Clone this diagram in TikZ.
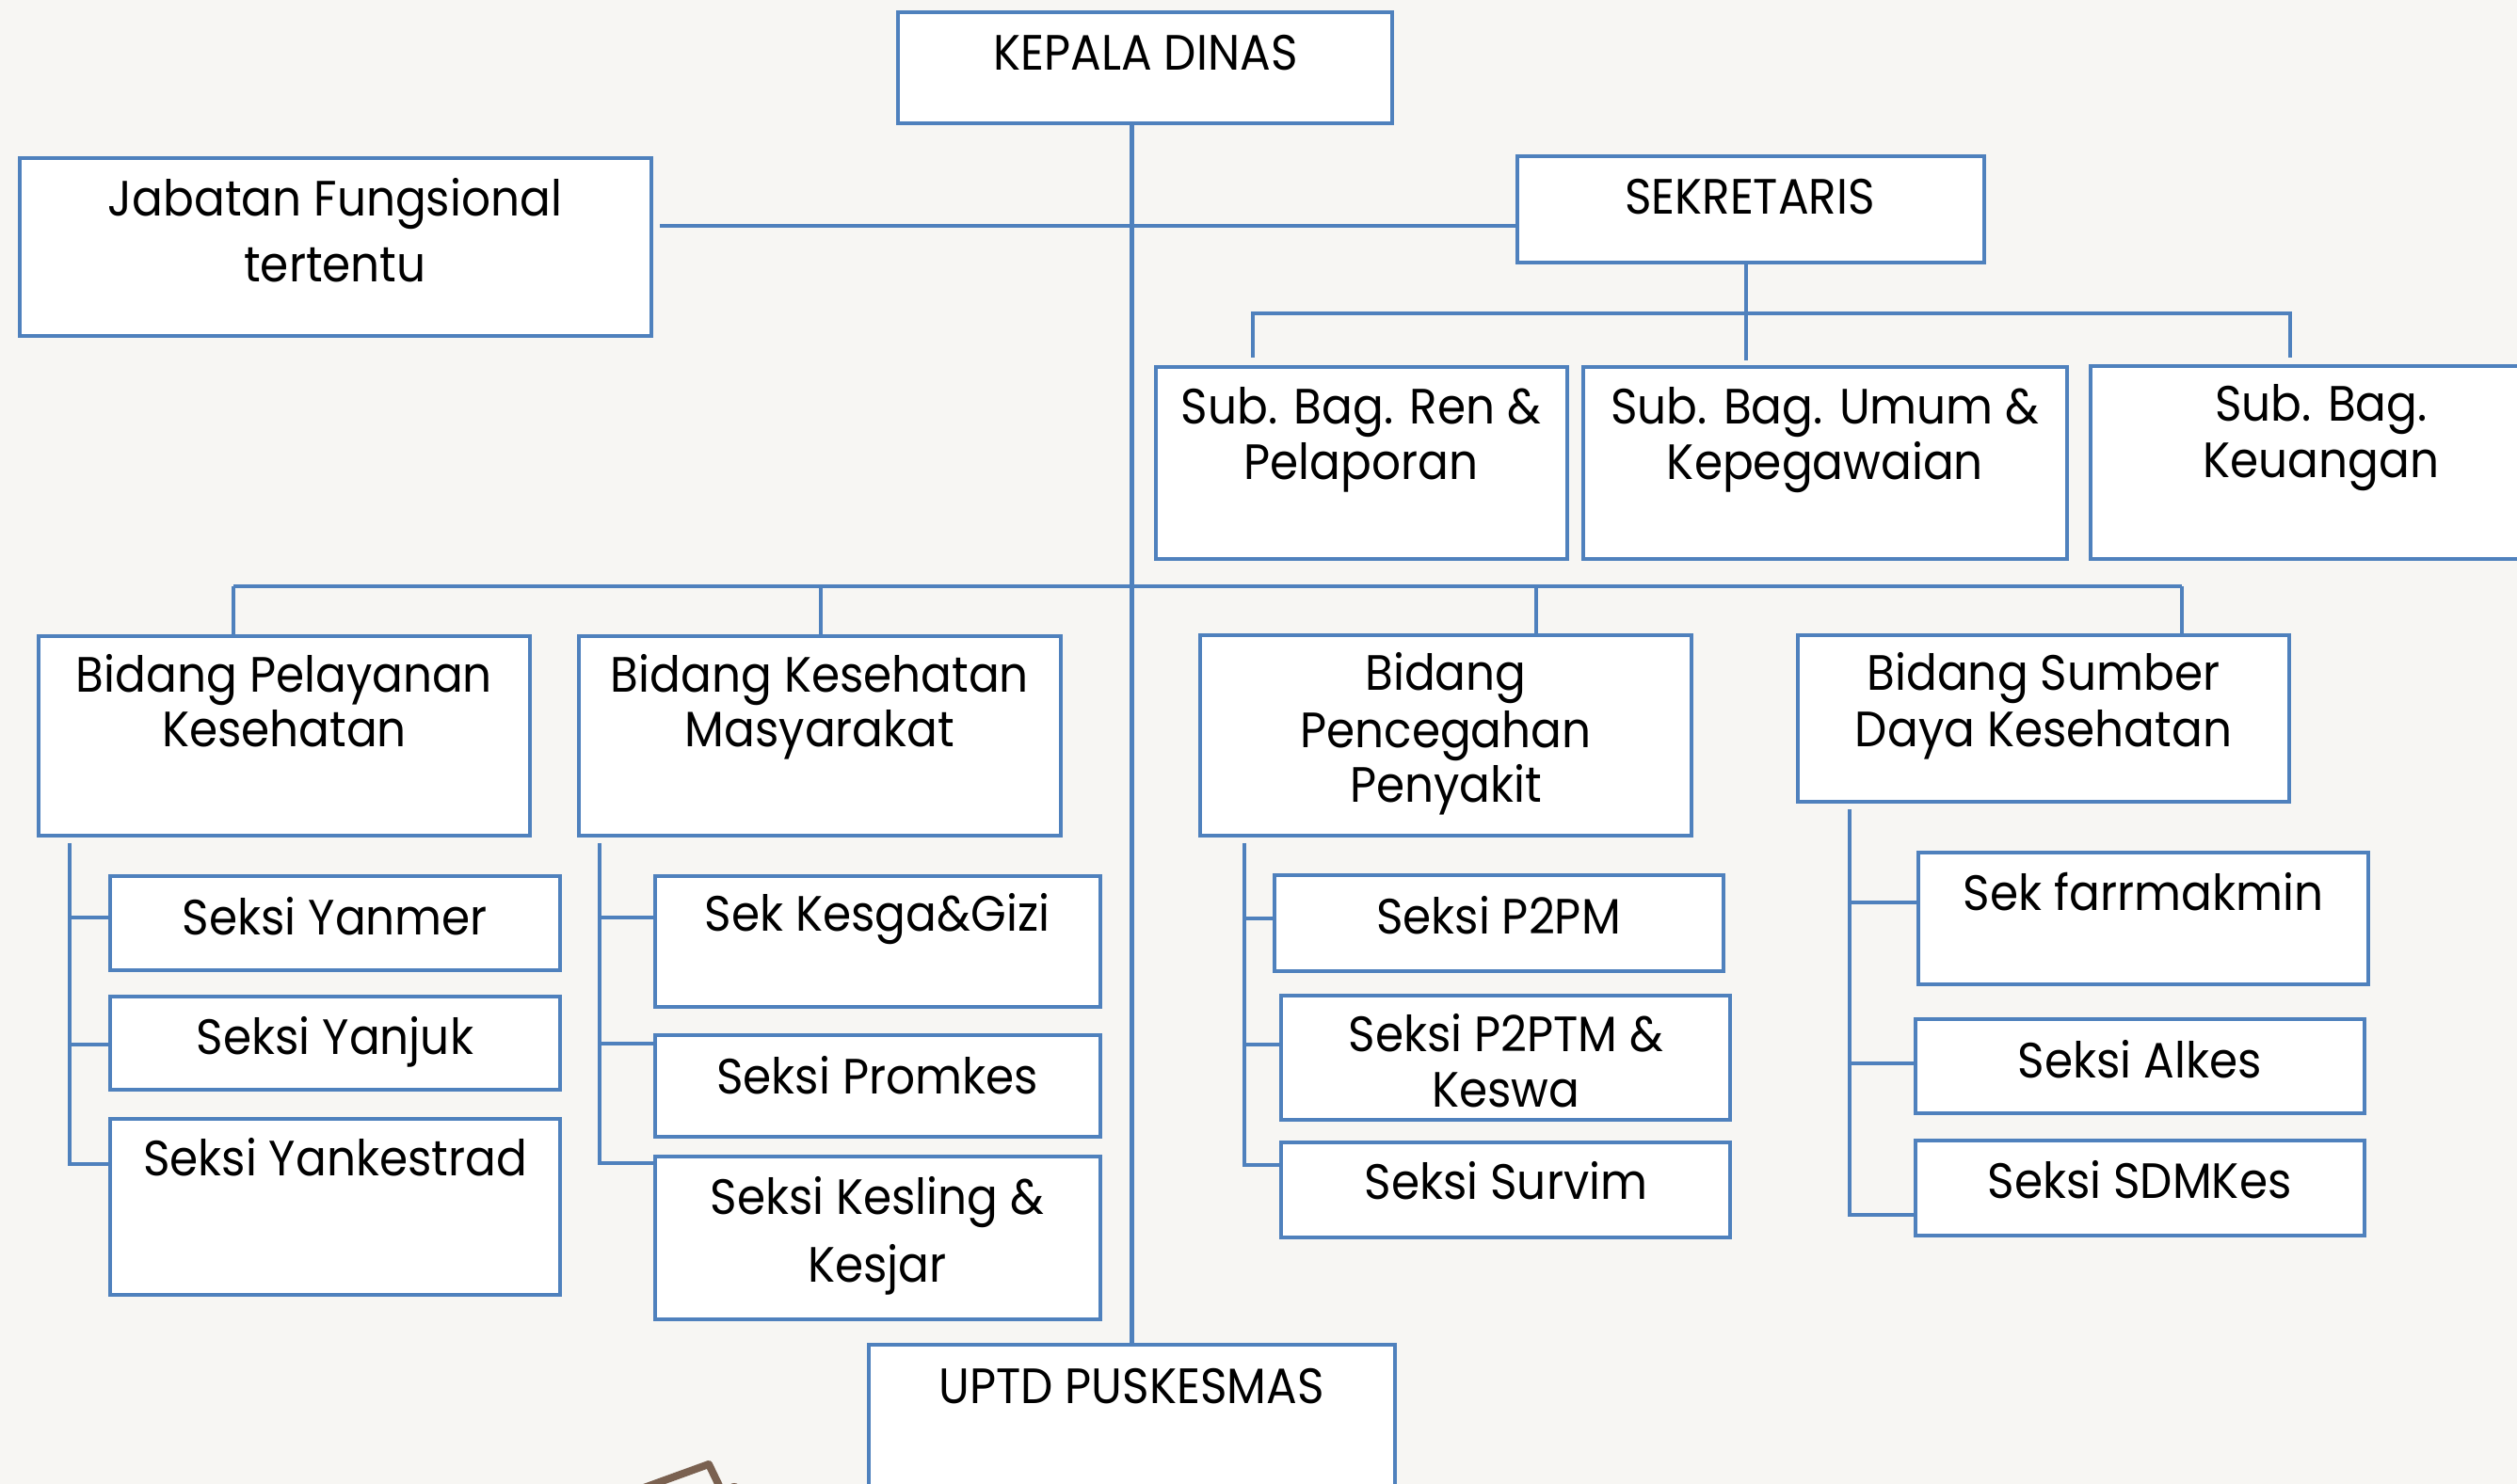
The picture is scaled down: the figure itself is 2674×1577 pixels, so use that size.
\documentclass[tikz,border=0pt]{standalone}
\usepackage{fontspec}
\setmainfont{Poppins}[FakeStretch=0.92]
\definecolor{bl}{HTML}{4F81BD}
\definecolor{bg}{HTML}{F7F6F3}
\definecolor{brn}{HTML}{7A6150}
\newcommand\orgbox[5]{\node[box, minimum width={(#4-#2)*0.01cm}, minimum height={(#5-#3)*0.01cm}] (#1) at (#2,#3) {};}
\begin{document}
\begin{tikzpicture}[x=0.01cm,y=-0.01cm,
  box/.style={draw=bl, line width=0.045cm, fill=white, rectangle, inner sep=0pt, outer sep=0pt, anchor=north west},
  conn/.style={draw=bl, line width=0.045cm},
  txt/.style={anchor=base, inner sep=0pt, font=\fontsize{15pt}{18pt}\selectfont}]
\fill[bg] (0,0) rectangle (2674,1577);
\useasboundingbox (0,0) rectangle (2674,1577);
% brown fragment
\draw[draw=brn, line width=0.08cm, line join=round] (673,1585) -- (753,1556) -- (767,1585);
\fill[brn] (780,1583) circle (0.07cm);
% boxes
\orgbox{kepala}{954}{13}{1479}{131}
\orgbox{jab}{21}{168}{692}{357}
\orgbox{sek}{1612}{166}{2108}{279}
\orgbox{ren}{1228}{390}{1665}{594}
\orgbox{umum}{1682}{390}{2196}{594}
\orgbox{keu}{2221}{389}{2760}{594}
\orgbox{pel}{41}{676}{563}{888}
\orgbox{kesmas}{615}{676}{1127}{888}
\orgbox{pence}{1275}{675}{1797}{888}
\orgbox{sumber}{1910}{675}{2432}{852}
\orgbox{yanmer}{117}{931}{595}{1031}
\orgbox{yanjuk}{117}{1059}{595}{1158}
\orgbox{yankes}{117}{1189}{595}{1376}
\orgbox{kesga}{696}{931}{1169}{1070}
\orgbox{promkes}{696}{1100}{1169}{1208}
\orgbox{kesling}{696}{1229}{1169}{1402}
\orgbox{ptwopm}{1354}{930}{1831}{1032}
\orgbox{ptwoptm}{1361}{1058}{1838}{1190}
\orgbox{survim}{1361}{1214}{1838}{1315}
\orgbox{farm}{2038}{906}{2516}{1046}
\orgbox{alkes}{2035}{1083}{2512}{1183}
\orgbox{sdm}{2035}{1212}{2512}{1313}
\orgbox{uptd}{923}{1429}{1482}{1660}
% texts
\node[txt] (t-kepala) at (1217,75) {KEPALA DINAS};
\node[txt] (t-jab1) at (356,230) {Jabatan Fungsional};
\node[txt] (t-jab2) at (356,300) {tertentu};
\node[txt] (t-sek) at (1859,228) {SEKRETARIS};
\node[txt] (t-ren1) at (1446,451) {Sub. Bag. Ren \&};
\node[txt] (t-ren2) at (1446,510) {Pelaporan};
\node[txt] (t-umum1) at (1939,451) {Sub. Bag. Umum \&};
\node[txt] (t-umum2) at (1939,510) {Kepegawaian};
\node[txt] (t-keu1) at (2466,448) {Sub. Bag.};
\node[txt] (t-keu2) at (2466,508) {Keuangan};
\node[txt] (t-pel1) at (302,736) {Bidang Pelayanan};
\node[txt] (t-pel2) at (302,794) {Kesehatan};
\node[txt] (t-kesmas1) at (871,736) {Bidang Kesehatan};
\node[txt] (t-kesmas2) at (871,794) {Masyarakat};
\node[txt] (t-pence1) at (1536,734) {Bidang};
\node[txt] (t-pence2) at (1536,795) {Pencegahan};
\node[txt] (t-pence3) at (1536,853) {Penyakit};
\node[txt] (t-sumber1) at (2171,734) {Bidang Sumber};
\node[txt] (t-sumber2) at (2171,794) {Daya Kesehatan};
\node[txt] (t-yanmer) at (356,994) {Seksi Yanmer};
\node[txt] (t-yanjuk) at (356,1121) {Seksi Yanjuk};
\node[txt] (t-yankes) at (356,1250) {Seksi Yankestrad};
\node[txt] (t-kesga) at (932,990) {Sek Kesga\&Gizi};
\node[txt] (t-promkes) at (932,1163) {Seksi Promkes};
\node[txt] (t-kesling1) at (932,1291) {Seksi Kesling \&};
\node[txt] (t-kesling2) at (932,1363) {Kesjar};
\node[txt] (t-ptwopm) at (1592,993) {Seksi P2PM};
\node[txt] (t-ptwoptm1) at (1600,1118) {Seksi P2PTM \&};
\node[txt] (t-ptwoptm2) at (1600,1177) {Keswa};
\node[txt] (t-survim) at (1600,1275) {Seksi Survim};
\node[txt] (t-farm) at (2277,968) {Sek farrmakmin};
\node[txt] (t-alkes) at (2273,1146) {Seksi Alkes};
\node[txt] (t-sdm) at (2273,1274) {Seksi SDMKes};
\node[txt] (t-uptd) at (1202,1492) {UPTD PUSKESMAS};
% connectors
\draw[conn] (uptd.north |- kepala.south) -- (uptd.north);
\draw[conn] (701,240) -- (sek.west |- 0,240);
\draw[conn] (sek.south -| 1855,0) -- (1855,383);
\draw[conn] (1331,380) -- (1331,333) -- (2433,333) -- (2433,380);
\draw[conn] (248,623) -- (2318,623);
\draw[conn] (248,623) -- (pel.north -| 248,0);
\draw[conn] (872,623) -- (kesmas.north -| 872,0);
\draw[conn] (1632,623) -- (pence.north -| 1632,0);
\draw[conn] (2318,623) -- (sumber.north -| 2318,0);
% Pelayanan sections
\draw[conn] (74,896) -- (74,1237) -- (yankes.west |- 0,1237);
\draw[conn] (74,975) -- (yanmer.west |- 0,975);
\draw[conn] (74,1110) -- (yanjuk.west |- 0,1110);
% Kesmas sections
\draw[conn] (637,896) -- (637,1236) -- (kesling.west |- 0,1236);
\draw[conn] (637,975) -- (kesga.west |- 0,975);
\draw[conn] (637,1109) -- (promkes.west |- 0,1109);
% Pencegahan sections
\draw[conn] (1322,896) -- (1322,1238) -- (survim.west |- 0,1238);
\draw[conn] (1322,976) -- (ptwopm.west |- 0,976);
\draw[conn] (1322,1110) -- (ptwoptm.west |- 0,1110);
% Sumber daya sections
\draw[conn] (1965,860) -- (1965,1291) -- (sdm.west |- 0,1291);
\draw[conn] (1965,959) -- (farm.west |- 0,959);
\draw[conn] (1965,1130) -- (alkes.west |- 0,1130);
\end{tikzpicture}
\end{document}
